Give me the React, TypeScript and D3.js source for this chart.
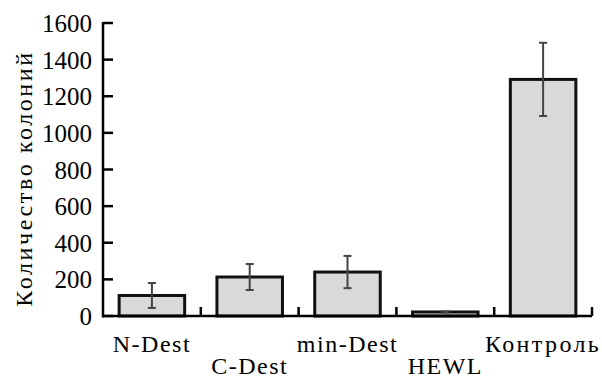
import React from 'react';
import * as d3 from 'd3';

const categories = ['N-Dest', 'C-Dest', 'min-Dest', 'HEWL', 'Контроль'];
const values = [112, 213, 240, 22, 1292];
const errors = [68, 71, 88, 3, 200];
const yTicks = [0, 200, 400, 600, 800, 1000, 1200, 1400, 1600];

const W = 602;
const H = 378;
const margin = { top: 23, right: 10, bottom: 62, left: 103 };

const FONT = 'Liberation Serif';
const isCyr = (s: string) => /[А-яЁё]/.test(s);

const App = () => {
  const x = d3
    .scaleBand<string>()
    .domain(categories)
    .range([margin.left, 592])
    .paddingInner(0.33)
    .paddingOuter(0.165);
  const y = d3.scaleLinear().domain([0, 1600]).range([H - margin.bottom, margin.top]);
  const step = x.step();
  const x0 = margin.left;
  const base = y(0);

  return (
    <svg width={W} height={H} style={{ position: 'absolute', left: 0, top: 0 }}>
      {/* bars */}
      {categories.map((c, i) => (
        <rect
          key={c}
          x={x(c)}
          y={y(values[i])}
          width={x.bandwidth()}
          height={base - y(values[i])}
          fill="#d9d9d9"
          stroke="#111"
          strokeWidth={3}
        />
      ))}
      {/* error bars */}
      {categories.map((c, i) => {
        const cx = (x(c) as number) + x.bandwidth() / 2;
        const hi = y(values[i] + errors[i]);
        const lo = y(Math.max(0, values[i] - errors[i]));
        return (
          <g key={c + '-err'} stroke="#444" strokeWidth={2}>
            <line x1={cx} x2={cx} y1={hi} y2={lo} />
            <line x1={cx - 4} x2={cx + 4} y1={hi} y2={hi} />
            <line x1={cx - 4} x2={cx + 4} y1={lo} y2={lo} />
          </g>
        );
      })}
      {/* y axis */}
      <line x1={x0} x2={x0} y1={y(1600) - 1} y2={base + 1.5} stroke="#000" strokeWidth={2.5} />
      {yTicks.map((t) => (
        <line key={t} x1={x0} x2={x0 + 10} y1={y(t)} y2={y(t)} stroke="#000" strokeWidth={2.5} />
      ))}
      {yTicks.map((t) => (
        <text key={t + '-t'} x={x0 - 11} y={y(t) + 9} textAnchor="end" fontFamily={FONT} fontSize={25}>
          {t}
        </text>
      ))}
      {/* x axis */}
      <line x1={x0} x2={592} y1={base} y2={base} stroke="#000" strokeWidth={2.5} />
      {categories.map((c, i) => (
        <line
          key={c + '-tick'}
          x1={x0 + step * (i + 1)}
          x2={x0 + step * (i + 1)}
          y1={base}
          y2={base - 9}
          stroke="#000"
          strokeWidth={2.5}
        />
      ))}
      {categories.map((c, i) => (
        <text
          key={c + '-label'}
          x={(x(c) as number) + x.bandwidth() / 2}
          y={i % 2 === 0 ? 352 : 374}
          textAnchor="middle"
          fontFamily={FONT}
          fontSize={24}
          letterSpacing={isCyr(c) ? 2.4 : 1.5}
        >
          {c}
        </text>
      ))}
      {/* y title */}
      <text
        transform={`translate(32, ${(y(1600) + base) / 2 + 9}) rotate(-90)`}
        textAnchor="middle"
        fontFamily={FONT}
        fontSize={24}
        letterSpacing={2.6}
      >
        Количество колоний
      </text>
    </svg>
  );
};

export default App;
